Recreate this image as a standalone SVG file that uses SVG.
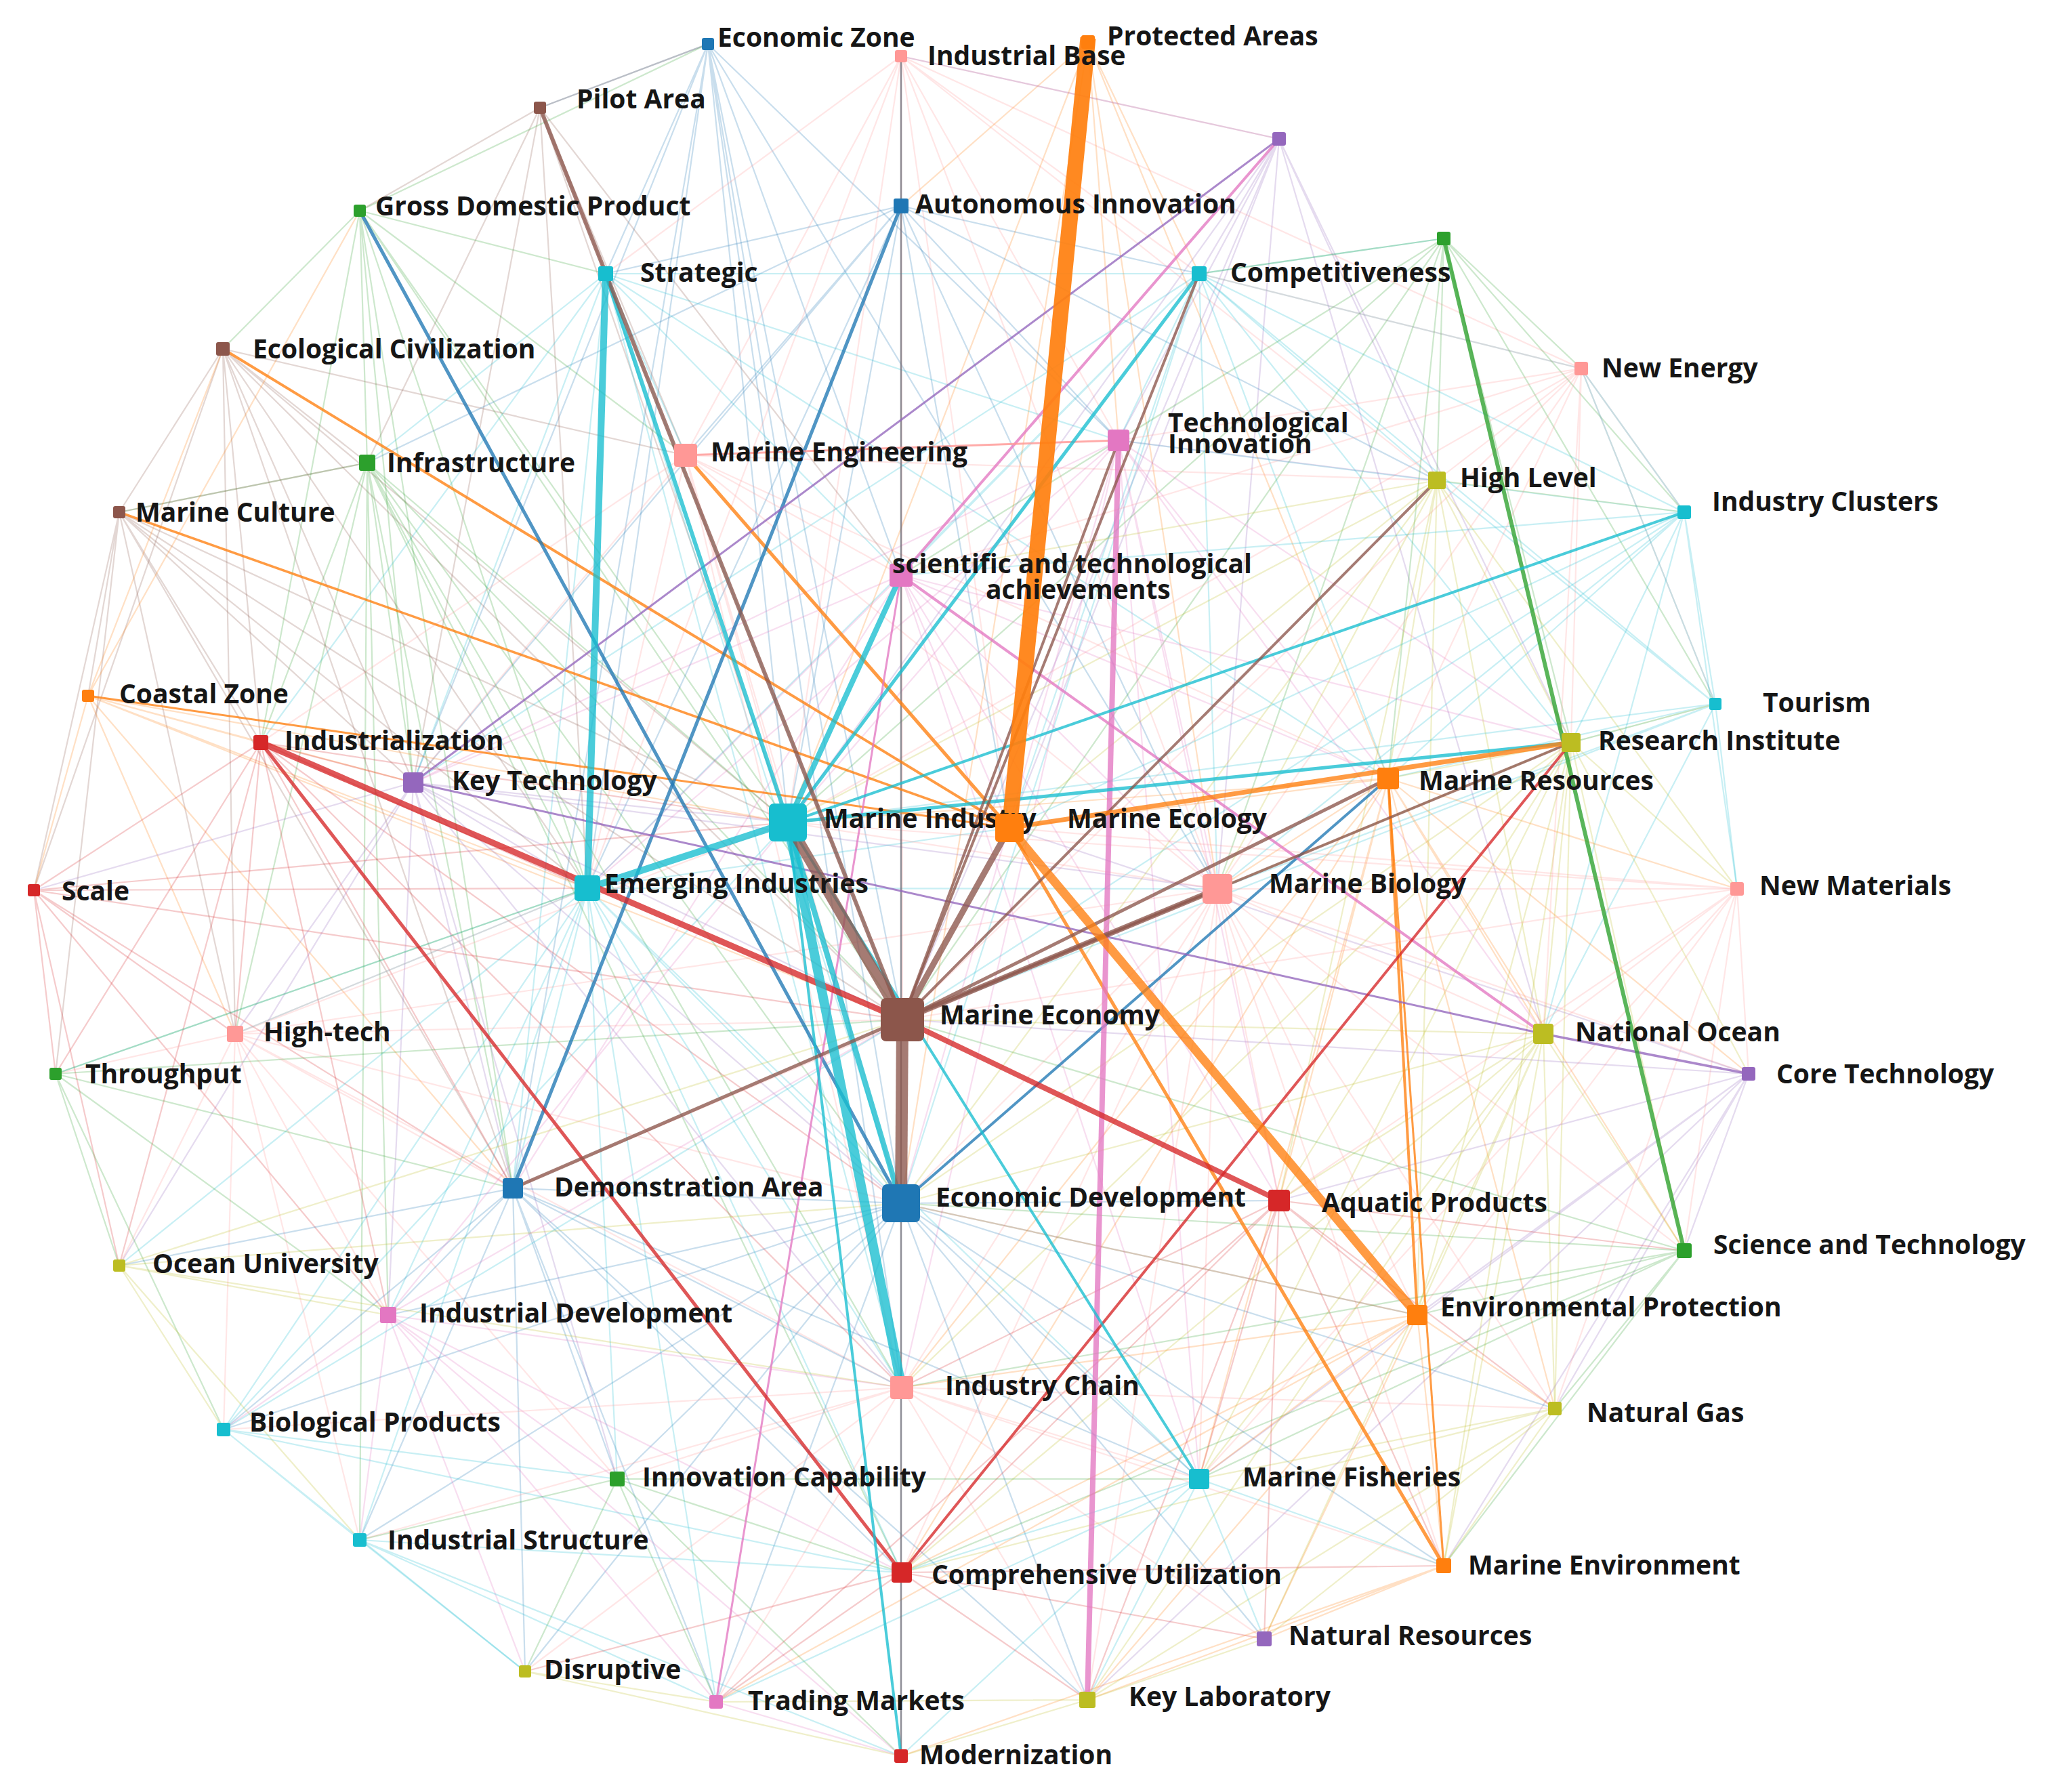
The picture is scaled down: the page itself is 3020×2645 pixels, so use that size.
<svg xmlns="http://www.w3.org/2000/svg" width="3020" height="2645" viewBox="0 0 3020 2645">
<style>
text{font-family:"Open Sans","Noto Sans","DejaVu Sans",sans-serif;font-weight:700;font-size:39px;fill:#161616}
#thin path{fill:none;stroke-width:2.2;stroke-opacity:.24}
#thick line{stroke-opacity:.78;stroke-linecap:butt}
.b{stroke:#1f77b4}.o{stroke:#ff7f0e}.g{stroke:#2ca02c}.r{stroke:#d62728}.p{stroke:#9467bd}.br{stroke:#8c564b}.k{stroke:#e377c2}.s{stroke:#ff9896}.y{stroke:#bcbd22}.c{stroke:#17becf}.gr{stroke:#6f6f7a}
.nb{fill:#1f77b4}.no{fill:#ff7f0e}.ng{fill:#2ca02c}.nr{fill:#d62728}.np{fill:#9467bd}.nbr{fill:#8c564b}.nk{fill:#e377c2}.ns{fill:#ff9896}.ny{fill:#bcbd22}.nc{fill:#17becf}
</style>
<rect width="3020" height="2645" fill="#ffffff"/>
<g id="connectors">
<g id="thin">
<path class="b" d="M1045 65L1163 1214M1045 65L867 1311M1045 65L757 1754M1045 65L1330 1776M1045 65L1332 1505M1045 65L610 1155M1045 65L1330 849M1045 65L1797 1312M1045 65L797 159M1045 65L894 404M1045 65L1651 650M1045 65L1331 2048"/>
<path class="s" d="M1330 83L1163 1214M1330 83L1332 1505M1330 83L1012 672M1330 83L1651 650M1330 83L1770 404M1330 83L894 404M1330 83L1797 1312M1330 83L1490 1222M1330 83L2334 544M1330 83L867 1311M1330 83L1888 205M1330 83L2121 709"/>
<path class="o" d="M1606 62L1163 1214M1606 62L1651 650M1606 62L1797 1312M1606 62L1770 404M1606 62L2049 1149M1606 62L1330 1776M1606 62L1330 304"/>
<path class="br" d="M797 159L1045 65M797 159L894 404M797 159L1163 1214M797 159L867 1311M797 159L531 311M797 159L1012 672M797 159L542 683M797 159L610 1155M797 159L1330 849"/>
<path class="p" d="M1888 205L1770 404M1888 205L1651 650M1888 205L1332 1505M1888 205L1163 1214M1888 205L1797 1312M1888 205L1490 1222M1888 205L2319 1096M1888 205L2121 709M1888 205L2278 1526M1888 205L1330 83"/>
<path class="g" d="M531 311L867 1311M531 311L1163 1214M531 311L894 404M531 311L542 683M531 311L329 515M531 311L610 1155M531 311L385 1096M531 311L1012 672M531 311L757 1754M531 311L1332 1505M531 311L1045 65"/>
<path class="b" d="M1330 304L1163 1214M1330 304L867 1311M1330 304L1012 672M1330 304L1651 650M1330 304L610 1155M1330 304L1770 404M1330 304L1797 1312M1330 304L542 683M1330 304L1490 1222M1330 304L894 404M1330 304L2121 709"/>
<path class="c" d="M894 404L1012 672M894 404L1332 1505M894 404L610 1155M894 404L385 1096M894 404L757 1754M894 404L1331 2048M894 404L1651 650M894 404L1770 404M894 404L1330 849M894 404L2049 1149M894 404L542 683M894 404L1330 1776"/>
<path class="c" d="M1770 404L1651 650M1770 404L867 1311M1770 404L1330 849M1770 404L2121 709M1770 404L2049 1149M1770 404L1797 1312M1770 404L2319 1096M1770 404L2486 756M1770 404L2334 544M1770 404L2131 352M1770 404L1490 1222M1770 404L1330 1776M1770 404L610 1155"/>
<path class="g" d="M2131 352L2121 709M2131 352L2334 544M2131 352L1770 404M2131 352L1163 1214M2131 352L1797 1312M2131 352L2049 1149M2131 352L2319 1096M2131 352L1651 650M2131 352L1330 849M2131 352L2486 756M2131 352L2532 1039M2131 352L1332 1505"/>
<path class="br" d="M329 515L1163 1214M329 515L867 1311M329 515L610 1155M329 515L542 683M329 515L385 1096M329 515L1332 1505M329 515L757 1754M329 515L176 756M329 515L50 1314M329 515L347 1526M329 515L1012 672"/>
<path class="s" d="M2334 544L2121 709M2334 544L2319 1096M2334 544L1163 1214M2334 544L1332 1505M2334 544L1797 1312M2334 544L2049 1149M2334 544L1651 650M2334 544L1330 849M2334 544L2486 756M2334 544L2278 1526M2334 544L2532 1039M2334 544L1770 404"/>
<path class="g" d="M542 683L1163 1214M542 683L867 1311M542 683L610 1155M542 683L1332 1505M542 683L1330 1776M542 683L757 1754M542 683L347 1526M542 683L385 1096M542 683L1331 2048M542 683L1331 2321M542 683L176 756M542 683L573 1941M542 683L531 2273"/>
<path class="s" d="M1012 672L1330 849M1012 672L1651 650M1012 672L1163 1214M1012 672L867 1311M1012 672L1797 1312M1012 672L2049 1149M1012 672L1331 2048M1012 672L610 1155M1012 672L2121 709M1012 672L1330 1776M1012 672L385 1096"/>
<path class="k" d="M1651 650L1163 1214M1651 650L867 1311M1651 650L1797 1312M1651 650L2049 1149M1651 650L2319 1096M1651 650L2121 709M1651 650L1330 1776M1651 650L1331 2048M1651 650L1770 2183M1651 650L1888 1772M1651 650L2278 1526M1651 650L610 1155"/>
<path class="y" d="M2121 709L1163 1214M2121 709L1490 1222M2121 709L1797 1312M2121 709L2049 1149M2121 709L2319 1096M2121 709L2278 1526M2121 709L1330 1776M2121 709L1330 849M2121 709L2092 1941M2121 709L2486 756M2121 709L2564 1312M2121 709L1888 1772"/>
<path class="br" d="M176 756L610 1155M176 756L867 1311M176 756L385 1096M176 756L1163 1214M176 756L757 1754M176 756L347 1526M176 756L82 1585M176 756L50 1314M176 756L1332 1505M176 756L130 1027M176 756L542 683"/>
<path class="c" d="M2486 756L2049 1149M2486 756L2319 1096M2486 756L1797 1312M2486 756L2278 1526M2486 756L2532 1039M2486 756L2564 1312M2486 756L1332 1505M2486 756L1490 1222M2486 756L1330 849M2486 756L1651 650M2486 756L2334 544"/>
<path class="k" d="M1330 849L867 1311M1330 849L1797 1312M1330 849L2049 1149M1330 849L610 1155M1330 849L1770 2183M1330 849L1888 1772M1330 849L2319 1096M1330 849L757 1754M1330 849L1490 1222"/>
<path class="o" d="M130 1027L385 1096M130 1027L610 1155M130 1027L867 1311M130 1027L50 1314M130 1027L347 1526M130 1027L1163 1214M130 1027L757 1754M130 1027L1332 1505M130 1027L329 515M130 1027L531 311"/>
<path class="c" d="M2532 1039L2319 1096M2532 1039L2049 1149M2532 1039L1797 1312M2532 1039L2564 1312M2532 1039L2278 1526M2532 1039L2121 709M2532 1039L1163 1214M2532 1039L1332 1505M2532 1039L1770 404M2532 1039L2334 544"/>
<path class="r" d="M385 1096L610 1155M385 1096L867 1311M385 1096L757 1754M385 1096L347 1526M385 1096L50 1314M385 1096L1163 1214M385 1096L1330 1776M385 1096L1331 2048M385 1096L573 1941M385 1096L82 1585M385 1096L176 1868"/>
<path class="y" d="M2319 1096L2049 1149M2319 1096L1797 1312M2319 1096L2278 1526M2319 1096L2564 1312M2319 1096L2092 1941M2319 1096L1888 1772M2319 1096L2295 2079M2319 1096L2581 1585M2319 1096L2486 1846M2319 1096L2131 2311M2319 1096L1770 2183M2319 1096L1330 1776M2319 1096L1331 2048M2319 1096L2532 1039"/>
<path class="p" d="M610 1155L867 1311M610 1155L1163 1214M610 1155L757 1754M610 1155L347 1526M610 1155L50 1314M610 1155L1330 1776M610 1155L1797 1312M610 1155L1331 2048M610 1155L573 1941M610 1155L911 2183M610 1155L1332 1505M610 1155L176 1868"/>
<path class="o" d="M2049 1149L1797 1312M2049 1149L2278 1526M2049 1149L1888 1772M2049 1149L2564 1312M2049 1149L2581 1585M2049 1149L2486 1846M2049 1149L1770 2183M2049 1149L1331 2048M2049 1149L2295 2079M2049 1149L1163 1214M2049 1149L1490 1222M2049 1149L1331 2321"/>
<path class="r" d="M50 1314L347 1526M50 1314L82 1585M50 1314L757 1754M50 1314L1332 1505M50 1314L176 1868M50 1314L867 1311M50 1314L573 1941M50 1314L1163 1214"/>
<path class="c" d="M867 1311L757 1754M867 1311L1330 1776M867 1311L1331 2048M867 1311L347 1526M867 1311L573 1941M867 1311L911 2183M867 1311L1331 2321M867 1311L531 2273M867 1311L330 2110M867 1311L1770 2183M867 1311L1797 1312M867 1311L176 1868M867 1311L82 1585M867 1311L1057 2512M867 1311L1490 1222"/>
<path class="s" d="M1797 1312L2278 1526M1797 1312L2564 1312M1797 1312L1888 1772M1797 1312L2092 1941M1797 1312L1770 2183M1797 1312L1331 2048M1797 1312L1331 2321M1797 1312L2295 2079M1797 1312L2581 1585M1797 1312L2131 2311M1797 1312L1605 2509M1797 1312L2486 1846M1797 1312L1330 1776M1797 1312L757 1754M1797 1312L1163 1214M1797 1312L347 1526"/>
<path class="s" d="M2564 1312L2278 1526M2564 1312L2581 1585M2564 1312L2486 1846M2564 1312L1888 1772M2564 1312L2092 1941M2564 1312L1332 1505M2564 1312L1163 1214M2564 1312L1490 1222M2564 1312L2295 2079M2564 1312L1770 2183"/>
<path class="s" d="M347 1526L757 1754M347 1526L573 1941M347 1526L176 1868M347 1526L82 1585M347 1526L1330 1776M347 1526L1331 2048M347 1526L330 2110M347 1526L531 2273M347 1526L1332 1505M347 1526L1163 1214M347 1526L911 2183M347 1526L867 1311"/>
<path class="y" d="M2278 1526L2486 1846M2278 1526L2092 1941M2278 1526L1888 1772M2278 1526L2295 2079M2278 1526L1770 2183M2278 1526L2131 2311M2278 1526L1331 2321M2278 1526L1330 1776M2278 1526L1332 1505M2278 1526L1866 2419M2278 1526L1605 2509"/>
<path class="g" d="M82 1585L757 1754M82 1585L176 1868M82 1585L867 1311M82 1585L573 1941M82 1585L1332 1505M82 1585L330 2110"/>
<path class="p" d="M2581 1585L2486 1846M2581 1585L2092 1941M2581 1585L1888 1772M2581 1585L2295 2079M2581 1585L2131 2311M2581 1585L1770 2183M2581 1585L1332 1505M2581 1585L1490 1222M2581 1585L1605 2509"/>
<path class="b" d="M757 1754L573 1941M757 1754L330 2110M757 1754L531 2273M757 1754L911 2183M757 1754L176 1868M757 1754L1331 2321M757 1754L1331 2048M757 1754L1330 1776M757 1754L775 2467M757 1754L1057 2512M757 1754L1770 2183M757 1754L1605 2509"/>
<path class="b" d="M1330 1776L1770 2183M1330 1776L1888 1772M1330 1776L2092 1941M1330 1776L1605 2509M1330 1776L1866 2419M1330 1776L1057 2512M1330 1776L911 2183M1330 1776L573 1941M1330 1776L531 2273M1330 1776L2295 2079M1330 1776L2131 2311M1330 1776L775 2467M1330 1776L330 2110"/>
<path class="r" d="M1888 1772L2092 1941M1888 1772L1770 2183M1888 1772L2295 2079M1888 1772L2131 2311M1888 1772L1866 2419M1888 1772L1605 2509M1888 1772L1331 2321M1888 1772L2486 1846M1888 1772L1331 2048M1888 1772L1057 2512"/>
<path class="g" d="M2486 1846L2092 1941M2486 1846L2295 2079M2486 1846L2131 2311M2486 1846L1770 2183M2486 1846L1331 2321M2486 1846L1331 2048M2486 1846L1330 1776M2486 1846L1332 1505"/>
<path class="y" d="M176 1868L573 1941M176 1868L330 2110M176 1868L1331 2048M176 1868L531 2273M176 1868L1332 1505M176 1868L1330 1776"/>
<path class="o" d="M2092 1941L1770 2183M2092 1941L2295 2079M2092 1941L2131 2311M2092 1941L1866 2419M2092 1941L1605 2509M2092 1941L1331 2321M2092 1941L1331 2048M2092 1941L1330 1776M2092 1941L1057 2512"/>
<path class="k" d="M573 1941L330 2110M573 1941L911 2183M573 1941L531 2273M573 1941L775 2467M573 1941L1331 2321M573 1941L1331 2048M573 1941L1057 2512M573 1941L1330 2592M573 1941L1332 1505M573 1941L1163 1214"/>
<path class="s" d="M1331 2048L1770 2183M1331 2048L1605 2509M1331 2048L1057 2512M1331 2048L911 2183M1331 2048L1866 2419M1331 2048L531 2273M1331 2048L330 2110M1331 2048L775 2467M1331 2048L2131 2311M1331 2048L2295 2079"/>
<path class="y" d="M2295 2079L2131 2311M2295 2079L1770 2183M2295 2079L1866 2419M2295 2079L1605 2509M2295 2079L1331 2321"/>
<path class="c" d="M330 2110L911 2183M330 2110L531 2273M330 2110L1331 2321M330 2110L1163 1214M330 2110L775 2467M330 2110L1332 1505"/>
<path class="g" d="M911 2183L1331 2321M911 2183L1057 2512M911 2183L775 2467M911 2183L531 2273M911 2183L1330 2592M911 2183L1770 2183"/>
<path class="c" d="M1770 2183L1605 2509M1770 2183L1866 2419M1770 2183L1331 2321M1770 2183L2131 2311M1770 2183L1330 2592M1770 2183L1057 2512"/>
<path class="c" d="M531 2273L775 2467M531 2273L1331 2321M531 2273L1057 2512M531 2273L1330 2592"/>
<path class="r" d="M1331 2321L1605 2509M1331 2321L1057 2512M1331 2321L1866 2419M1331 2321L775 2467M1331 2321L2131 2311"/>
<path class="o" d="M2131 2311L1866 2419M2131 2311L1605 2509M2131 2311L1330 2592"/>
<path class="y" d="M775 2467L1057 2512M775 2467L1330 2592M1605 2509L1330 2592M1605 2509L1866 2419M1605 2509L1057 2512"/>
<path class="k" d="M1057 2512L1330 2592"/>
</g>
<g id="thick">
<line class="gr" x1="1330" y1="83" x2="1330" y2="2592" stroke-width="2.5"/>
<line class="o" x1="1490" y1="1222" x2="2131" y2="2311" stroke-width="5"/>
<line class="o" x1="1012" y1="672" x2="1490" y2="1222" stroke-width="5"/>
<line class="o" x1="329" y1="515" x2="1490" y2="1222" stroke-width="4"/>
<line class="o" x1="176" y1="756" x2="1490" y2="1222" stroke-width="3.5"/>
<line class="o" x1="130" y1="1027" x2="1490" y2="1222" stroke-width="3"/>
<line class="o" x1="2049" y1="1149" x2="2092" y2="1941" stroke-width="4"/>
<line class="o" x1="2049" y1="1149" x2="2131" y2="2311" stroke-width="3"/>
<line class="b" x1="531" y1="311" x2="1330" y2="1776" stroke-width="5"/>
<line class="b" x1="1330" y1="304" x2="757" y2="1754" stroke-width="5"/>
<line class="b" x1="1330" y1="1776" x2="2049" y2="1149" stroke-width="4"/>
<line class="p" x1="610" y1="1155" x2="2278" y2="1526" stroke-width="3"/>
<line class="p" x1="2278" y1="1526" x2="2581" y2="1585" stroke-width="3.5"/>
<line class="p" x1="1888" y1="205" x2="610" y2="1155" stroke-width="3"/>
<line class="k" x1="1888" y1="205" x2="1330" y2="849" stroke-width="4"/>
<line class="k" x1="1330" y1="849" x2="2278" y2="1526" stroke-width="4"/>
<line class="k" x1="1057" y1="2512" x2="1330" y2="849" stroke-width="3"/>
<line class="s" x1="1012" y1="672" x2="1651" y2="650" stroke-width="3"/>
<line class="k" x1="1651" y1="650" x2="1605" y2="2509" stroke-width="8"/>
<line class="g" x1="2131" y1="352" x2="2486" y2="1846" stroke-width="6"/>
<line class="r" x1="385" y1="1096" x2="1331" y2="2321" stroke-width="5"/>
<line class="r" x1="1331" y1="2321" x2="2319" y2="1096" stroke-width="4"/>
<line class="c" x1="1163" y1="1214" x2="2486" y2="756" stroke-width="4"/>
<line class="c" x1="1163" y1="1214" x2="1330" y2="2592" stroke-width="4"/>
<line class="c" x1="1163" y1="1214" x2="1770" y2="2183" stroke-width="4"/>
<line class="c" x1="1163" y1="1214" x2="2319" y2="1096" stroke-width="5"/>
<line class="c" x1="1163" y1="1214" x2="1770" y2="404" stroke-width="5"/>
<line class="c" x1="894" y1="404" x2="1163" y2="1214" stroke-width="6"/>
<line class="c" x1="1163" y1="1214" x2="1330" y2="849" stroke-width="8"/>
<line class="c" x1="1163" y1="1214" x2="1330" y2="1776" stroke-width="8"/>
<line class="br" x1="1332" y1="1505" x2="2121" y2="709" stroke-width="4"/>
<line class="br" x1="1332" y1="1505" x2="1770" y2="404" stroke-width="4"/>
<line class="br" x1="1332" y1="1505" x2="1651" y2="650" stroke-width="4"/>
<line class="br" x1="1332" y1="1505" x2="2319" y2="1096" stroke-width="4"/>
<line class="br" x1="1332" y1="1505" x2="2049" y2="1149" stroke-width="5"/>
<line class="br" x1="1332" y1="1505" x2="757" y2="1754" stroke-width="5"/>
<line class="br" x1="1332" y1="1505" x2="797" y2="159" stroke-width="6"/>
<line class="br" x1="1332" y1="1505" x2="1797" y2="1312" stroke-width="8"/>
<line class="br" x1="1332" y1="1505" x2="1490" y2="1222" stroke-width="9"/>
<line class="o" x1="1490" y1="1222" x2="2319" y2="1096" stroke-width="7"/>
<line class="o" x1="1490" y1="1222" x2="2092" y2="1941" stroke-width="13"/>
<line class="c" x1="894" y1="404" x2="867" y2="1311" stroke-width="10"/>
<line class="c" x1="1163" y1="1214" x2="867" y2="1311" stroke-width="10"/>
<line class="r" x1="385" y1="1096" x2="1332" y2="1505" stroke-width="9"/>
<line class="r" x1="1332" y1="1505" x2="1888" y2="1772" stroke-width="8"/>
<line class="c" x1="1163" y1="1214" x2="1331" y2="2048" stroke-width="14"/>
<line class="br" x1="1332" y1="1505" x2="1163" y2="1214" stroke-width="16"/>
<line class="br" x1="1332" y1="1505" x2="1330" y2="1776" stroke-width="18"/>
<line class="o" x1="1606" y1="56" x2="1490" y2="1222" stroke-width="23" style="stroke-opacity:.92"/>
</g>
</g>
<g id="nodes">
<g id="n-economic-zone"><rect class="nb" x="1036" y="56" width="18" height="18" rx="3"/><text x="1059" y="69">Economic Zone</text></g>
<g id="n-industrial-base"><rect class="ns" x="1321" y="74" width="18" height="18" rx="3"/><text x="1369" y="96">Industrial Base</text></g>
<g id="n-protected-areas"><rect class="no" x="1596" y="52" width="20" height="20" rx="3"/><text x="1634" y="67">Protected Areas</text></g>
<g id="n-pilot-area"><rect class="nbr" x="788" y="150" width="18" height="18" rx="3"/><text x="851" y="160">Pilot Area</text></g>
<g id="n-unlabeled-purple"><rect class="np" x="1878" y="195" width="20" height="20" rx="3"/></g>
<g id="n-gross-domestic-product"><rect class="ng" x="522" y="302" width="18" height="18" rx="3"/><text x="554" y="318">Gross Domestic Product</text></g>
<g id="n-autonomous-innovation"><rect class="nb" x="1319" y="293" width="22" height="22" rx="3"/><text x="1351" y="315">Autonomous Innovation</text></g>
<g id="n-strategic"><rect class="nc" x="883" y="393" width="22" height="22" rx="3"/><text x="945" y="416">Strategic</text></g>
<g id="n-competitiveness"><rect class="nc" x="1759" y="393" width="22" height="22" rx="3"/><text x="1816" y="416">Competitiveness</text></g>
<g id="n-unlabeled-green"><rect class="ng" x="2121" y="342" width="20" height="20" rx="3"/></g>
<g id="n-ecological-civilization"><rect class="nbr" x="319" y="505" width="20" height="20" rx="3"/><text x="373" y="529">Ecological Civilization</text></g>
<g id="n-new-energy"><rect class="ns" x="2324" y="534" width="20" height="20" rx="3"/><text x="2364" y="557">New Energy</text></g>
<g id="n-infrastructure"><rect class="ng" x="530" y="671" width="24" height="24" rx="3"/><text x="571" y="697">Infrastructure</text></g>
<g id="n-marine-engineering"><rect class="ns" x="995" y="655" width="34" height="34" rx="4"/><text x="1049" y="681">Marine Engineering</text></g>
<g id="n-technological-innovation"><rect class="nk" x="1635" y="634" width="32" height="32" rx="4"/><text x="1724" y="638">Technological<tspan x="1724" y="669">Innovation</tspan></text></g>
<g id="n-high-level"><rect class="ny" x="2108" y="696" width="26" height="26" rx="3"/><text x="2155" y="719">High Level</text></g>
<g id="n-marine-culture"><rect class="nbr" x="167" y="747" width="18" height="18" rx="3"/><text x="200" y="770">Marine Culture</text></g>
<g id="n-industry-clusters"><rect class="nc" x="2476" y="746" width="20" height="20" rx="3"/><text x="2527" y="754">Industry Clusters</text></g>
<g id="n-scientific-achievements"><rect class="nk" x="1313" y="832" width="34" height="34" rx="4"/><text x="1317" y="846">scientific and technological<tspan x="1455" y="884">achievements</tspan></text></g>
<g id="n-coastal-zone"><rect class="no" x="121" y="1018" width="18" height="18" rx="3"/><text x="176" y="1038">Coastal Zone</text></g>
<g id="n-tourism"><rect class="nc" x="2523" y="1030" width="18" height="18" rx="3"/><text x="2602" y="1051">Tourism</text></g>
<g id="n-industrialization"><rect class="nr" x="374" y="1085" width="22" height="22" rx="3"/><text x="420" y="1107">Industrialization</text></g>
<g id="n-research-institute"><rect class="ny" x="2305" y="1082" width="28" height="28" rx="3"/><text x="2359" y="1107">Research Institute</text></g>
<g id="n-key-technology"><rect class="np" x="595" y="1140" width="30" height="30" rx="4"/><text x="667" y="1166">Key Technology</text></g>
<g id="n-marine-resources"><rect class="no" x="2033" y="1133" width="32" height="32" rx="4"/><text x="2094" y="1166">Marine Resources</text></g>
<g id="n-marine-industry"><rect class="nc" x="1135" y="1186" width="56" height="56" rx="7"/><text x="1216" y="1222">Marine Industry</text></g>
<g id="n-marine-ecology"><rect class="no" x="1469" y="1201" width="42" height="42" rx="5"/><text x="1575" y="1222">Marine Ecology</text></g>
<g id="n-scale"><rect class="nr" x="41" y="1305" width="18" height="18" rx="3"/><text x="91" y="1329">Scale</text></g>
<g id="n-emerging-industries"><rect class="nc" x="848" y="1292" width="38" height="38" rx="5"/><text x="892" y="1318">Emerging Industries</text></g>
<g id="n-marine-biology"><rect class="ns" x="1775" y="1290" width="44" height="44" rx="5"/><text x="1873" y="1318">Marine Biology</text></g>
<g id="n-new-materials"><rect class="ns" x="2554" y="1302" width="20" height="20" rx="3"/><text x="2597" y="1321">New Materials</text></g>
<g id="n-marine-economy"><rect class="nbr" x="1300" y="1473" width="64" height="64" rx="8"/><text x="1387" y="1512">Marine Economy</text></g>
<g id="n-high-tech"><rect class="ns" x="335" y="1514" width="24" height="24" rx="3"/><text x="389" y="1537">High-tech</text></g>
<g id="n-national-ocean"><rect class="ny" x="2263" y="1511" width="30" height="30" rx="4"/><text x="2325" y="1537">National Ocean</text></g>
<g id="n-throughput"><rect class="ng" x="73" y="1576" width="18" height="18" rx="3"/><text x="126" y="1599">Throughput</text></g>
<g id="n-core-technology"><rect class="np" x="2571" y="1575" width="20" height="20" rx="3"/><text x="2622" y="1599">Core Technology</text></g>
<g id="n-demonstration-area"><rect class="nb" x="742" y="1739" width="30" height="30" rx="4"/><text x="818" y="1766">Demonstration Area</text></g>
<g id="n-economic-development"><rect class="nb" x="1302" y="1748" width="56" height="56" rx="7"/><text x="1381" y="1781">Economic Development</text></g>
<g id="n-aquatic-products"><rect class="nr" x="1872" y="1756" width="32" height="32" rx="4"/><text x="1951" y="1789">Aquatic Products</text></g>
<g id="n-science-and-technology"><rect class="ng" x="2475" y="1835" width="22" height="22" rx="3"/><text x="2529" y="1851">Science and Technology</text></g>
<g id="n-ocean-university"><rect class="ny" x="167" y="1859" width="18" height="18" rx="3"/><text x="225" y="1879">Ocean University</text></g>
<g id="n-environmental-protection"><rect class="no" x="2077" y="1926" width="30" height="30" rx="4"/><text x="2126" y="1943">Environmental Protection</text></g>
<g id="n-industrial-development"><rect class="nk" x="561" y="1929" width="24" height="24" rx="3"/><text x="619" y="1952">Industrial Development</text></g>
<g id="n-industry-chain"><rect class="ns" x="1314" y="2031" width="34" height="34" rx="4"/><text x="1395" y="2059">Industry Chain</text></g>
<g id="n-natural-gas"><rect class="ny" x="2285" y="2069" width="20" height="20" rx="3"/><text x="2342" y="2099">Natural Gas</text></g>
<g id="n-biological-products"><rect class="nc" x="320" y="2100" width="20" height="20" rx="3"/><text x="368" y="2113">Biological Products</text></g>
<g id="n-innovation-capability"><rect class="ng" x="900" y="2172" width="22" height="22" rx="3"/><text x="948" y="2194">Innovation Capability</text></g>
<g id="n-marine-fisheries"><rect class="nc" x="1755" y="2168" width="30" height="30" rx="4"/><text x="1834" y="2194">Marine Fisheries</text></g>
<g id="n-industrial-structure"><rect class="nc" x="521" y="2263" width="20" height="20" rx="3"/><text x="572" y="2287">Industrial Structure</text></g>
<g id="n-comprehensive-utilization"><rect class="nr" x="1316" y="2306" width="30" height="30" rx="4"/><text x="1375" y="2338">Comprehensive Utilization</text></g>
<g id="n-marine-environment"><rect class="no" x="2120" y="2300" width="22" height="22" rx="3"/><text x="2167" y="2324">Marine Environment</text></g>
<g id="n-natural-resources"><rect class="np" x="1855" y="2408" width="22" height="22" rx="3"/><text x="1902" y="2428">Natural Resources</text></g>
<g id="n-disruptive"><rect class="ny" x="766" y="2458" width="18" height="18" rx="3"/><text x="803" y="2478">Disruptive</text></g>
<g id="n-key-laboratory"><rect class="ny" x="1593" y="2497" width="24" height="24" rx="3"/><text x="1666" y="2518">Key Laboratory</text></g>
<g id="n-trading-markets"><rect class="nk" x="1047" y="2502" width="20" height="20" rx="3"/><text x="1104" y="2524">Trading Markets</text></g>
<g id="n-modernization"><rect class="nr" x="1320" y="2582" width="20" height="20" rx="3"/><text x="1357" y="2604">Modernization</text></g>
</g>
</svg>
